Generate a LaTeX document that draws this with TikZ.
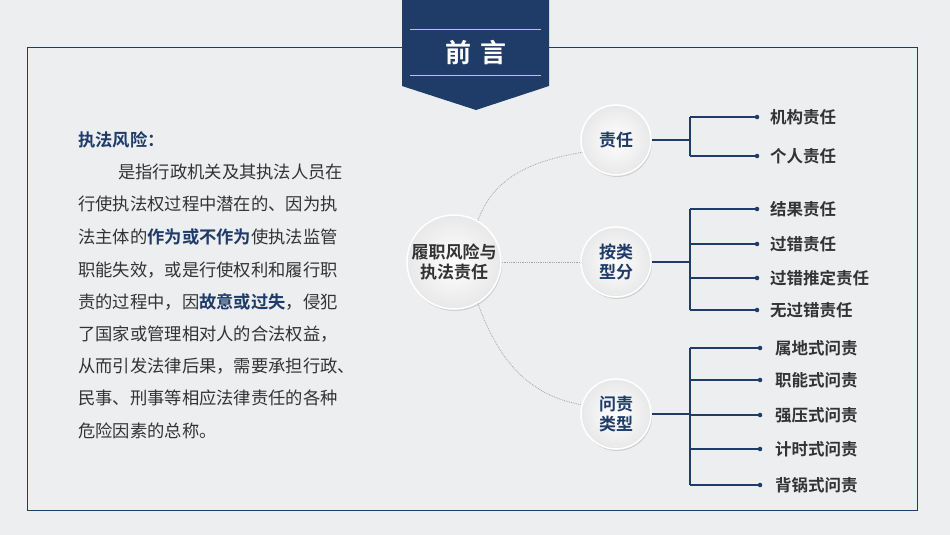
\documentclass[tikz,border=0pt]{standalone}
\usepackage{fontspec}
\setmainfont{Noto Sans CJK SC}
\newfontfamily\cjkbold{Noto Sans CJK SC Bold}
\usetikzlibrary{shadows}
\definecolor{navy}{HTML}{1F3B68}
\definecolor{darktext}{HTML}{333333}
\definecolor{bgray}{HTML}{EDEEF0}
\tikzset{
  ball/.style={circle,inner color=white,outer color=gray!18,draw=white,line width=1.5pt,
    drop shadow={shadow xshift=1pt,shadow yshift=-2pt,opacity=0.25}},
  balltext/.style={font=\cjkbold\fontsize{17}{20}\selectfont,text=navy,align=center},
  leaf/.style={anchor=west,inner sep=0pt,font=\cjkbold\fontsize{16.5}{19}\selectfont,text=darktext},
  para/.style={anchor=west,font=\fontsize{17.3}{20}\selectfont,text=darktext,inner sep=0pt},
  branch/.style={navy,line width=1.6pt},
  linkdot/.style={gray!70,densely dotted,line width=0.8pt}
}
\newcommand{\hl}[1]{{\cjkbold\color{navy}#1}}
\begin{document}
\begin{tikzpicture}[x=1pt,y=-1pt]
   \fill[bgray] (0,0) rectangle (950,535);
   \useasboundingbox (0,0) rectangle (950,535);
   \draw[navy,line width=0.8pt] (27,47) rectangle (917,510);

   % header banner
   \fill[navy] (402,0) -- (549,0) -- (549,86) -- (476,110) -- (402,86) -- cycle;
   \draw[white!70!navy,line width=0.6pt] (410,29) -- (541,29);
   \draw[white!70!navy,line width=0.6pt] (410,75) -- (541,75);
   \node[text=white,font=\cjkbold\fontsize{26}{30}\selectfont] (head) at (476,53) {前\hspace{10pt}言};

   % left text
   \node[anchor=west,inner sep=0pt,font=\cjkbold\fontsize{17.3}{20}\selectfont,text=navy] (title) at (78,140) {执法风险：};
   \node[para] (p1) at (118,172) {是指行政机关及其执法人员在};
   \node[para] (p2) at (78,204) {行使执法权过程中潜在的、因为执};
   \node[para] (p3) at (78,237) {法主体的\hl{作为或不作为}使执法监管};
   \node[para] (p4) at (78,270) {职能失效，或是行使权利和履行职};
   \node[para] (p5) at (78,302) {责的过程中，因\hl{故意或过失}，侵犯};
   \node[para] (p6) at (78,334) {了国家或管理相对人的合法权益，};
   \node[para] (p7) at (78,366) {从而引发法律后果，需要承担行政、};
   \node[para] (p8) at (78,398) {民事、刑事等相应法律责任的各种};
   \node[para] (p9) at (78,431) {危险因素的总称。};

   % circles
   \node[ball,minimum size=94pt] (core) at (454,262) {};
   \node[balltext,text=darktext] at (core) {履职风险与\\执法责任};
   \node[ball,minimum size=70pt] (duty) at (616,140) {};
   \node[balltext] at (duty) {责任};
   \node[ball,minimum size=70pt] (kind) at (616,262) {};
   \node[balltext] at (kind) {按类\\型分};
   \node[ball,minimum size=70pt] (blame) at (616,414) {};
   \node[balltext] at (blame) {问责\\类型};

   \draw[linkdot] (core.60) to[out=70,in=190] (duty.200);
   \draw[linkdot] (core.east) -- (kind.west);
   \draw[linkdot] (core.-60) to[out=-70,in=170] (blame.165);

   % leaves
   \node[leaf] (d1) at (770,117) {机构责任};
   \node[leaf] (d2) at (770,156) {个人责任};
   \node[leaf] (k1) at (770,209) {结果责任};
   \node[leaf] (k2) at (770,244) {过错责任};
   \node[leaf] (k3) at (770,278) {过错推定责任};
   \node[leaf] (k4) at (770,310) {无过错责任};
   \node[leaf] (b1) at (775,348) {属地式问责};
   \node[leaf] (b2) at (775,380) {职能式问责};
   \node[leaf] (b3) at (775,415) {强压式问责};
   \node[leaf] (b4) at (775,449) {计时式问责};
   \node[leaf] (b5) at (775,485) {背锅式问责};

   % brackets
   \draw[branch] (duty.east) -- (690,140);
   \draw[branch] (690,117) -- (690,156);
   \foreach \n in {d1,d2}
     \draw[branch] (690,0 |- \n.west) -- (757,0 |- \n.west) node[circle,fill=navy,inner sep=1.6pt]{};
   \draw[branch] (kind.east) -- (690,262);
   \draw[branch] (690,209) -- (690,310);
   \foreach \n in {k1,k2,k3,k4}
     \draw[branch] (690,0 |- \n.west) -- (757,0 |- \n.west) node[circle,fill=navy,inner sep=1.6pt]{};
   \draw[branch] (blame.east) -- (690,414);
   \draw[branch] (690,348) -- (690,485);
   \foreach \n in {b1,b2,b3,b4,b5}
     \draw[branch] (690,0 |- \n.west) -- (760,0 |- \n.west) node[circle,fill=navy,inner sep=1.6pt]{};
\end{tikzpicture}
\end{document}
